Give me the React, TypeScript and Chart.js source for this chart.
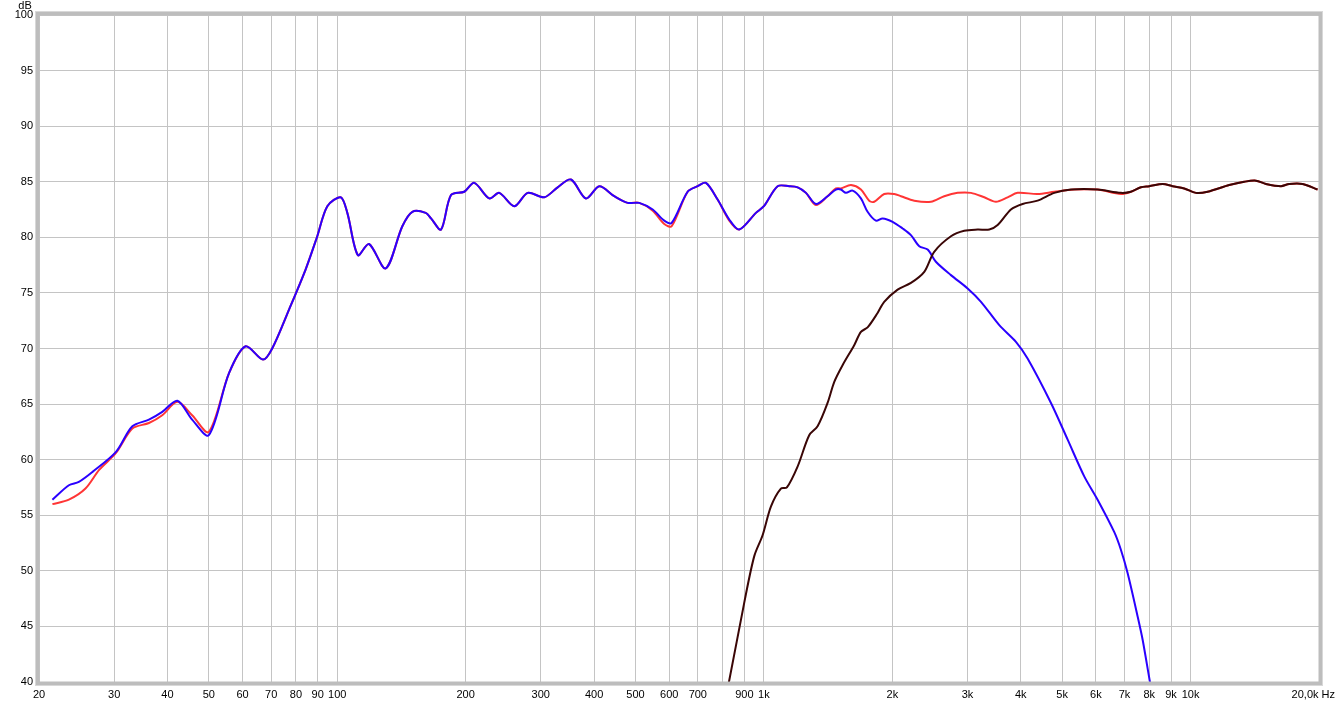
import React, { useEffect, useRef } from "react";
import { Chart, registerables } from "chart.js";

Chart.register(...registerables);

// ---- data ----
const wooferFreq = [21.5, 23.5, 24.8, 26.7, 30.3, 33.1, 36.2, 38.9, 42.2, 45.7, 50.0, 55.8, 61.0, 67.0, 70.4, 77.1, 84.3, 89.8, 94.8, 101.9, 105.6, 111.8, 118.7, 129.9, 142.1, 150.0, 161.2, 165.9, 175.1, 184.8, 198.5, 209.5, 227.2, 239.8, 260.0, 279.5, 305.7, 328.6, 353.0, 382.8, 411.4, 446.0, 479.4, 510.3, 548.8, 584.2, 607.9, 662.6, 699.4, 731.5, 779.0, 829.6, 875.5, 957.9, 1000, 1077, 1147, 1200, 1255, 1324, 1410, 1475, 1515, 1557, 1614, 1688, 1750, 1830, 1898, 2003, 2114, 2211, 2313, 2420, 2530, 2744, 3003, 3227, 3562, 3897, 4150, 4708, 5152, 5634, 6055, 6622, 6866, 7119, 7515, 7721, 8015, 8300];
const wooferDb = [56.4, 57.7, 58.0, 58.9, 60.7, 63.0, 63.6, 64.3, 65.3, 63.6, 62.2, 67.8, 70.2, 69.0, 70.0, 73.5, 77.1, 80.1, 82.8, 83.6, 82.2, 78.4, 79.4, 77.2, 81.0, 82.3, 82.2, 81.7, 80.7, 83.8, 84.1, 84.9, 83.5, 84.0, 82.8, 84.0, 83.6, 84.5, 85.2, 83.5, 84.6, 83.7, 83.1, 83.1, 82.5, 81.5, 81.3, 84.1, 84.6, 84.9, 83.4, 81.6, 80.7, 82.2, 82.8, 84.6, 84.6, 84.5, 84.0, 83.0, 83.7, 84.3, 84.3, 84.0, 84.2, 83.5, 82.3, 81.5, 81.7, 81.4, 80.8, 80.2, 79.2, 78.9, 77.8, 76.6, 75.4, 74.2, 72.1, 70.6, 69.1, 65.1, 61.8, 58.5, 56.4, 53.5, 51.9, 49.8, 45.9, 43.8, 40.2, 37.0];

const sumFreq = [21.5, 23.5, 25.7, 27.7, 30.3, 33.1, 36.2, 38.9, 42.2, 45.7, 50.0, 55.8, 61.0, 67.0, 70.4, 77.1, 84.3, 89.8, 94.8, 101.9, 105.6, 111.8, 118.7, 129.9, 142.1, 150.0, 161.2, 165.9, 175.1, 184.8, 198.5, 209.5, 227.2, 239.8, 260.0, 279.5, 305.7, 328.6, 353.0, 382.8, 411.4, 446.0, 479.4, 510.3, 548.8, 584.2, 607.9, 662.6, 699.4, 731.5, 779.0, 829.6, 875.5, 957.9, 1000, 1077, 1147, 1200, 1255, 1324, 1410, 1475, 1515, 1600, 1688, 1765, 1814, 1914, 2021, 2095, 2251, 2463, 2646, 2845, 3057, 3285, 3499, 3726, 3933, 4380, 4793, 5339, 6055, 6866, 7247, 7651, 8001, 8602, 9079, 9663, 10293, 10965, 12321, 13358, 14230, 15019, 16283, 17028, 18303, 19846];
const sumDb = [56.0, 56.4, 57.4, 59.1, 60.6, 62.8, 63.3, 64.0, 65.2, 64.0, 62.5, 67.8, 70.2, 69.0, 70.0, 73.5, 77.1, 80.1, 82.8, 83.6, 82.2, 78.4, 79.4, 77.2, 81.0, 82.3, 82.2, 81.7, 80.7, 83.8, 84.1, 84.9, 83.5, 84.0, 82.8, 84.0, 83.6, 84.5, 85.2, 83.5, 84.6, 83.7, 83.1, 83.1, 82.4, 81.2, 81.0, 84.1, 84.6, 84.9, 83.4, 81.5, 80.7, 82.2, 82.8, 84.6, 84.6, 84.5, 84.0, 82.9, 83.7, 84.4, 84.4, 84.7, 84.3, 83.3, 83.2, 83.9, 83.9, 83.7, 83.3, 83.2, 83.7, 84.0, 84.0, 83.6, 83.2, 83.6, 84.0, 83.9, 84.1, 84.3, 84.3, 83.9, 84.1, 84.5, 84.6, 84.8, 84.6, 84.4, 84.0, 84.1, 84.7, 85.0, 85.1, 84.8, 84.6, 84.8, 84.8, 84.3];

const tweeterFreq = [800, 830, 899, 949, 993, 1039, 1096, 1132, 1200, 1277, 1336, 1410, 1462, 1529, 1628, 1688, 1750, 1847, 1914, 2058, 2211, 2376, 2507, 2744, 2948, 3169, 3375, 3531, 3793, 4040, 4380, 4793, 5245, 6055, 6866, 7247, 7651, 8001, 8602, 9079, 9663, 10293, 10965, 12321, 13358, 14230, 15019, 16283, 17028, 18303, 19846];
const tweeterDb = [37.5, 40.2, 47.1, 51.3, 53.2, 55.8, 57.4, 57.5, 59.4, 62.2, 63.0, 65.1, 67.0, 68.5, 70.3, 71.5, 71.9, 73.2, 74.2, 75.3, 75.9, 76.9, 78.7, 80.1, 80.6, 80.7, 80.7, 81.1, 82.5, 83.0, 83.3, 84.0, 84.3, 84.3, 84.0, 84.1, 84.5, 84.6, 84.8, 84.6, 84.4, 84.0, 84.1, 84.7, 85.0, 85.1, 84.8, 84.6, 84.8, 84.8, 84.3];

const xTickValues = [20, 30, 40, 50, 60, 70, 80, 90, 100, 200, 300, 400, 500, 600, 700, 800, 900, 1000, 2000, 3000, 4000, 5000, 6000, 7000, 8000, 9000, 10000, 20000];
const xTickLabels = ["20", "30", "40", "50", "60", "70", "80", "90", "100", "200", "300", "400", "500", "600", "700", "", "900", "1k", "2k", "3k", "4k", "5k", "6k", "7k", "8k", "9k", "10k", "20,0k Hz"];
const yUnit = "dB";

const FONT = "11px 'Liberation Sans', Arial, sans-serif";

const toPoints = (xs: number[], ys: number[]) => xs.map((x, i) => ({ x, y: ys[i] }));

const decorPlugin = {
  id: "decor",
  afterDatasetsDraw(chart: any) {
    const { ctx, chartArea } = chart;
    const { left, top, right, bottom } = chartArea;
    ctx.save();
    ctx.strokeStyle = "#bdbdbd";
    ctx.lineWidth = 4;
    ctx.strokeRect(left - 1.5, top - 1.5, right - left + 3, bottom - top + 3);
    ctx.strokeStyle = "#d8d8d8";
    ctx.lineWidth = 1;
    ctx.strokeRect(left - 3.5, top - 3.5, right - left + 7, bottom - top + 7);
    ctx.restore();
  },
  afterDraw(chart: any) {
    const { ctx } = chart;
    const xs = chart.scales.x;
    ctx.save();
    ctx.font = FONT;
    ctx.fillStyle = "#000";
    ctx.textBaseline = "alphabetic";
    xTickValues.forEach((v, i) => {
      const lbl = xTickLabels[i];
      if (!lbl) return;
      const px = xs.getPixelForValue(v);
      if (i === xTickValues.length - 1) {
        ctx.textAlign = "right";
        ctx.fillText(lbl, chart.width - 2, 698);
      } else {
        ctx.textAlign = "center";
        ctx.fillText(lbl, px, 698);
      }
    });
    ctx.textAlign = "center";
    ctx.fillText(yUnit, 25, 9);
    ctx.restore();
  },
};

export default function App() {
  const ref = useRef<HTMLCanvasElement | null>(null);
  useEffect(() => {
    document.body.style.margin = "0";
    const canvas = ref.current;
    if (!canvas) return;
    const chart = new Chart(canvas, {
      type: "line",
      data: {
        datasets: [
          {
            label: "Tweeter",
            data: toPoints(tweeterFreq, tweeterDb),
            borderColor: "#3a0606",
            borderWidth: 2,
            pointRadius: 0,
            tension: 0.3,
            order: 0,
          },
          {
            label: "Woofer",
            data: toPoints(wooferFreq, wooferDb),
            borderColor: "#2a00ff",
            borderWidth: 2,
            pointRadius: 0,
            tension: 0.3,
            order: 1,
          },
          {
            label: "Sum",
            data: toPoints(sumFreq, sumDb),
            borderColor: "#ff3535",
            borderWidth: 2,
            pointRadius: 0,
            tension: 0.3,
            order: 2,
          },
        ],
      },
      options: {
        responsive: false,
        animation: false,
        layout: { padding: { top: 15, right: 18, left: 0, bottom: 0 } },
        plugins: { legend: { display: false }, tooltip: { enabled: false } },
        scales: {
          x: {
            type: "logarithmic",
            min: 20,
            max: 20000,
            afterBuildTicks: (scale: any) => {
              scale.ticks = xTickValues.map((v) => ({ value: v }));
            },
            afterFit: (scale: any) => {
              scale.height = 21;
            },
            ticks: { display: false },
            grid: { color: "#c4c4c4", lineWidth: 1, drawTicks: false },
            border: { display: false },
          },
          y: {
            type: "linear",
            min: 40,
            max: 100,
            afterFit: (scale: any) => {
              scale.width = 39;
            },
            ticks: {
              stepSize: 5,
              color: "#000",
              padding: 6,
              font: { family: "'Liberation Sans', Arial, sans-serif", size: 11 },
            },
            grid: { color: "#c4c4c4", lineWidth: 1, drawTicks: false },
            border: { display: false },
          },
        },
      },
      plugins: [decorPlugin],
    } as any);
    return () => chart.destroy();
  }, []);
  return (
    <div style={{ width: 1337, height: 703, background: "#fff" }}>
      <canvas ref={ref} width={1337} height={703} style={{ display: "block" }} />
    </div>
  );
}
